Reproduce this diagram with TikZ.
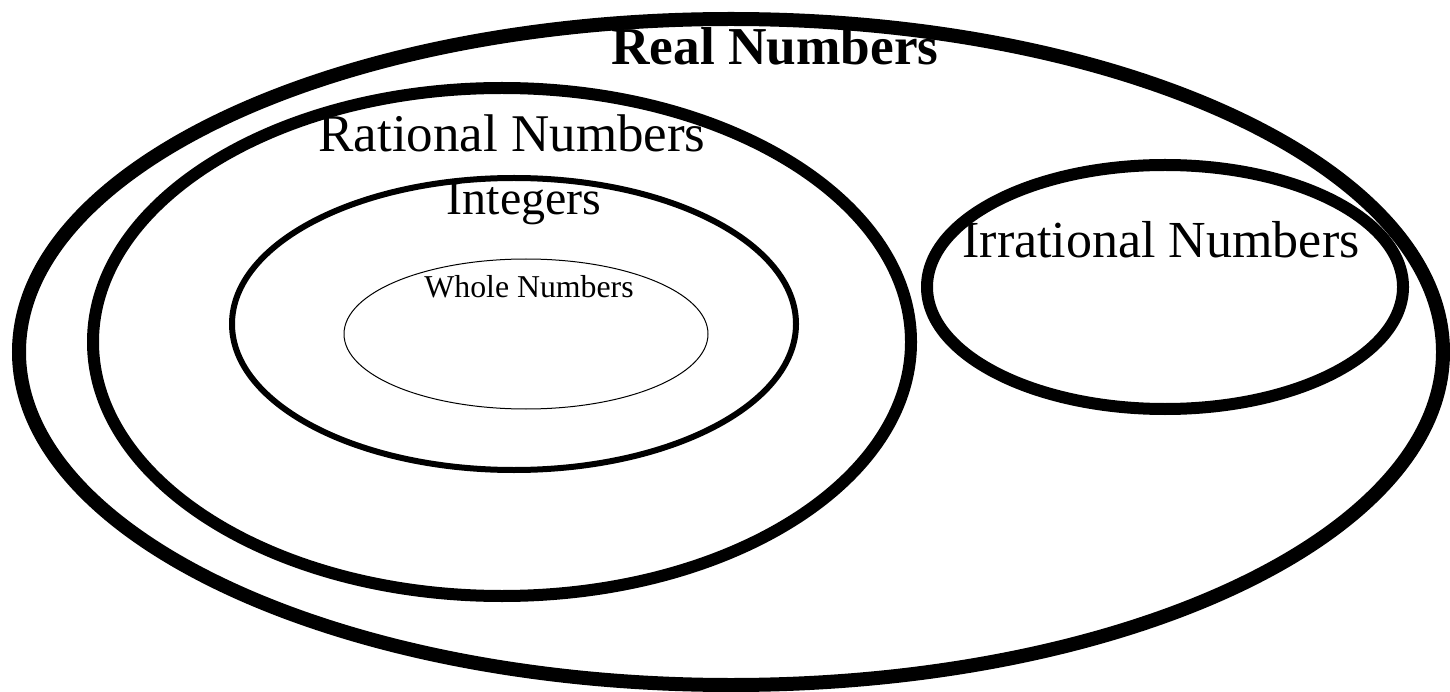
\documentclass[tikz,border=0pt]{standalone}
\usepackage{fontspec}
\setmainfont{Liberation Serif}
\usetikzlibrary{shapes.geometric}
\tikzset{
  setbox/.style={draw=black, ellipse, inner sep=0pt, fill=none},
  lbl/.style={anchor=base, inner sep=0pt, text=black}
}
\begin{document}
\begin{tikzpicture}[x=1pt,y=-1pt]
\useasboundingbox (0,0) rectangle (1450,692);
\fill[white] (0,0) rectangle (1450,692);
% sets
\node[setbox, line width=14pt, minimum width=1424pt, minimum height=666pt] (real) at (731,352) {};
\node[setbox, line width=12pt, minimum width=818pt, minimum height=508pt] (rational) at (502,342) {};
\node[setbox, line width=6pt, minimum width=564pt, minimum height=292pt] (integers) at (514,324) {};
\node[setbox, line width=1pt, minimum width=364pt, minimum height=150pt] (whole) at (526,334) {};
\node[setbox, line width=12pt, minimum width=476pt, minimum height=244pt] (irrational) at (1165,287) {};
% labels
\node[lbl, font=\fontsize{53.3}{53.3}\selectfont\bfseries] (treal) at (775,65) {Real Numbers};
\node[lbl, font=\fontsize{53}{53}\selectfont] (trational) at (512,152) {Rational Numbers};
\node[lbl, font=\fontsize{48}{48}\selectfont] (tintegers) at (524,215) {Integers};
\node[lbl, font=\fontsize{52}{52}\selectfont] (tirrational) at (1161,258) {Irrational Numbers};
\node[lbl, font=\fontsize{31.8}{31.8}\selectfont] (twhole) at (529,298) {Whole Numbers};
\end{tikzpicture}
\end{document}
